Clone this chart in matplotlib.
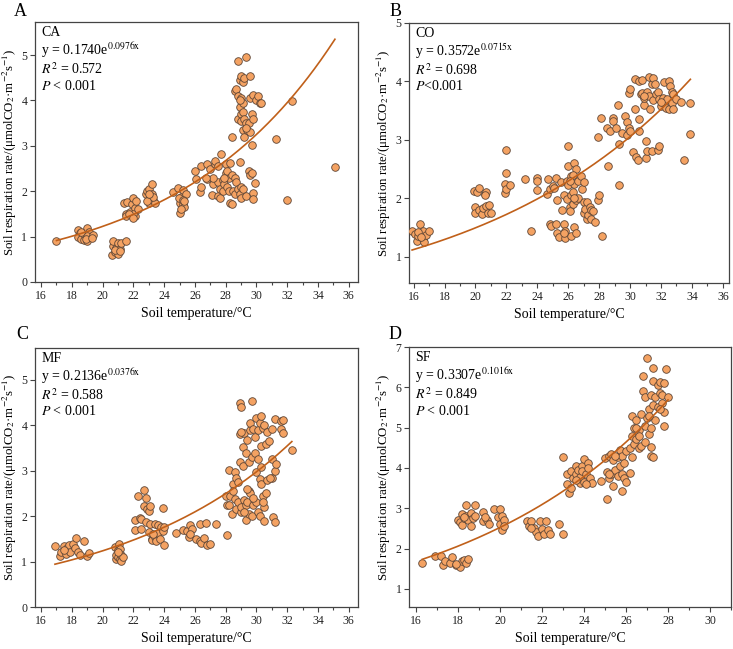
import numpy as np
import matplotlib
matplotlib.use('Agg')
import matplotlib.pyplot as plt
from matplotlib.ticker import MultipleLocator

plt.rcParams['font.family'] = 'Liberation Serif'
plt.rcParams['mathtext.fontset'] = 'stix'

# ---- data ----
# CA
ca_temp = [17.0, 18.4, 18.5, 18.4, 18.6, 18.8, 18.8, 19.0, 19.0, 19.1, 19.2, 19.0, 18.9, 19.4, 18.6, 19.3,
           20.6, 20.7, 20.7, 20.8, 20.9, 21.0, 21.0, 21.1, 21.2, 21.5, 20.8, 21.1,
           21.4, 21.5, 21.6, 21.5, 21.8, 21.9, 22.0, 22.1, 22.1, 22.2, 22.0, 22.3, 21.7, 22.0,
           22.8, 22.9, 23.0, 23.0, 23.1, 23.2, 23.2, 23.3, 23.1, 23.4, 23.3, 22.9, 23.0,
           24.6, 24.9, 25.0, 25.0, 25.1, 25.2, 25.2, 25.3, 25.4, 25.1, 24.95, 25.2, 25.3,
           26.0, 26.1, 26.3, 26.4, 26.4, 26.8, 26.8, 27.0, 27.1, 27.2, 27.3, 27.3, 27.5, 27.5, 27.5, 27.6,
           27.6, 27.7, 27.8, 27.8, 27.9, 28.0, 28.0, 28.1, 28.1, 28.2, 28.2, 28.3, 28.3, 28.4, 28.4, 28.5,
           28.6, 28.6, 28.7, 28.8, 28.9, 28.9, 29.0, 29.0, 29.1, 29.3, 29.5, 29.6, 29.7, 29.8, 29.8, 29.9,
           28.4, 27.2, 26.7, 27.9,
           28.6, 28.7, 28.8, 28.8, 28.8, 28.9, 28.9, 29.0, 29.0, 29.0, 29.0, 29.1, 29.1, 29.1, 29.1, 29.2,
           29.2, 29.2, 29.3, 29.3, 29.4, 29.5, 29.6, 29.6, 29.6, 29.7, 29.7, 29.8, 29.8, 30.0, 30.1, 30.2,
           30.3, 28.9, 29.3,
           31.3, 32.0, 32.3, 35.1]
ca_resp = [0.91, 1.15, 1.08, 1.00, 0.95, 1.05, 0.92, 0.90, 1.20, 1.10, 1.00, 1.02, 0.95, 1.03, 1.10, 0.98,
           0.60, 0.80, 0.90, 0.65, 0.75, 0.85, 0.62, 0.72, 0.85, 0.90, 0.70, 0.68,
           1.75, 1.50, 1.77, 1.46, 1.55, 1.72, 1.85, 1.45, 1.62, 1.78, 1.50, 1.60, 1.50, 1.42,
           1.93, 2.00, 2.05, 1.75, 1.85, 2.17, 1.95, 1.80, 1.90, 1.75, 1.88, 1.78, 1.95,
           1.98, 2.07, 1.52, 1.75, 1.88, 2.03, 1.72, 1.65, 1.93, 1.60, 1.85, 1.80, 1.78,
           2.45, 2.27, 1.98, 2.10, 2.56, 2.60, 2.28, 2.50, 1.92, 2.15, 2.60, 2.67, 2.20, 2.55, 1.90, 1.85,
           2.05, 2.83, 2.25, 2.00, 2.15, 2.60, 2.40, 2.45, 2.10, 2.30, 2.00, 1.75, 2.62, 1.72, 2.35, 2.00,
           1.95, 2.30, 2.20, 2.05, 2.65, 1.95, 2.10, 1.85, 2.05, 1.90, 2.45, 2.35, 2.40, 1.97, 1.82, 2.18,
           3.20, 2.30, 2.30, 2.30,
           4.22, 4.25, 4.10, 3.60, 4.88, 4.45, 3.85, 4.55, 4.05, 3.70, 3.55, 4.40, 3.95, 3.75, 3.35, 4.50,
           3.60, 3.20, 4.96, 3.50, 3.35, 3.50, 4.05, 4.55, 3.30, 3.02, 3.70, 4.12, 3.60, 4.00, 4.10, 3.95,
           3.95, 4.00, 3.40,
           3.15, 1.81, 3.98, 2.53]

# CO
co_temp = [15.9, 16.1, 16.2, 16.3, 16.4, 16.5, 16.6, 16.6, 16.7, 16.8, 17.0, 16.3, 16.5,
           19.9, 20.0, 20.0, 20.1, 20.2, 20.2, 20.4, 20.5, 20.6, 20.7, 20.7, 20.8, 20.9, 21.0, 20.6,
           21.9, 21.9, 22.0, 22.0, 22.0, 22.2,
           23.2, 23.6, 24.0, 24.0, 24.0, 24.6, 24.7, 24.8, 24.8, 24.9, 25.0, 25.1, 25.2, 25.2, 25.3, 25.3,
           25.4, 25.5, 25.6, 25.7, 25.7, 25.8, 25.8, 25.9, 25.9, 26.0, 26.0, 26.0, 26.1, 26.1, 26.2, 26.2,
           26.2, 26.3, 26.3, 26.4, 26.4, 26.4, 26.5, 26.5, 26.5, 26.6, 26.6, 26.8, 26.9, 27.0, 27.0, 27.0,
           27.1, 27.2, 27.2, 27.3, 27.4, 27.5, 27.5, 27.6, 27.7, 27.9, 28.0, 28.2, 26.3, 26.1, 25.7, 26.4,
           27.9, 28.1, 28.5, 28.6, 28.7, 28.9, 28.9, 29.1, 29.2, 29.3, 29.3, 29.5, 29.7, 29.8, 29.8, 29.9,
           29.9, 30.0, 30.0, 30.2, 30.3, 30.3, 30.4, 30.5, 30.6, 30.6, 30.6, 30.7, 30.8, 30.8, 30.9, 30.9,
           31.0, 31.0, 31.1, 31.1, 31.2, 31.2, 31.3, 31.4, 31.4, 31.5, 31.5, 31.6, 31.7, 31.8, 31.8, 31.9,
           31.9, 32.0, 32.1, 32.2, 32.2, 32.3, 32.4, 32.5, 32.5, 32.6, 32.7, 32.7, 32.8, 32.8, 33.0, 33.3,
           33.5, 33.9, 33.9, 32.0, 30.9]
co_resp = [1.44, 1.38, 1.27, 1.35, 1.55, 1.40, 1.30, 1.44, 1.25, 1.37, 1.43, 1.42, 1.33,
           2.13, 1.85, 1.75, 2.10, 2.18, 1.80, 1.73, 1.83, 2.07, 2.10, 1.87, 1.75, 1.88, 1.75, 2.05,
           2.25, 2.08, 2.15, 2.82, 2.43, 2.22,
           2.32, 1.44, 2.35, 2.14, 2.30, 2.07, 2.33, 2.15, 1.55, 1.52, 2.20, 2.18, 1.55, 2.35, 1.97, 1.40,
           1.33, 2.28, 1.80, 2.05, 1.55, 1.43, 1.32, 1.98, 2.30, 2.55, 2.89, 2.22, 1.85, 1.78, 2.05, 2.38,
           1.35, 2.10, 1.90, 2.60, 2.25, 1.50, 2.50, 1.97, 1.40, 2.00, 2.30, 2.38, 2.15, 2.28, 1.93, 1.75,
           1.82, 1.93, 1.65, 1.72, 1.85, 1.80, 1.65, 1.78, 1.60, 1.97, 2.06, 1.36, 2.40, 2.30, 1.40, 2.00,
           3.05, 3.37, 3.20, 2.55, 3.15, 3.37, 3.32, 3.20, 3.60, 2.92, 2.22, 3.12, 3.40, 3.08, 3.30, 3.80,
           3.20, 3.87, 3.15, 2.79, 4.03, 3.53, 2.70, 2.65, 4.00, 3.35, 3.15, 3.78, 4.02, 3.80, 3.60, 3.72,
           2.98, 2.68, 2.80, 3.82, 4.08, 3.75, 3.52, 2.80, 3.95, 4.05, 3.68, 3.95, 3.78, 3.82, 2.82, 2.90,
           3.70, 3.58, 3.72, 3.98, 3.62, 3.55, 3.70, 4.00, 3.52, 3.92, 3.82, 3.62, 3.52, 3.78, 3.70, 3.65,
           2.66, 3.63, 3.09, 3.65, 3.75]

# MF
mf_temp = [16.9, 17.2, 17.3, 17.5, 17.6, 17.7, 17.8, 17.9, 18.1, 18.2, 18.3, 18.4, 18.5, 18.8, 19.0, 19.1, 17.5,
           20.8, 20.9, 20.9, 21.0, 21.0, 21.05, 21.1, 21.1, 21.2, 21.2, 21.3, 21.0,
           22.1, 22.1, 22.3, 22.4, 22.5, 22.5, 22.7, 22.7, 22.8, 22.8, 22.9, 23.0, 23.0, 23.1, 23.1, 23.2,
           23.2, 23.4, 23.4, 23.5, 23.6, 23.6, 23.7, 23.8, 23.9, 23.9, 24.0, 24.0, 23.3,
           24.8, 25.2, 25.5, 25.6, 25.7, 25.8, 26.1, 26.3, 26.3, 26.4, 26.6, 26.7, 26.8, 27.0, 27.4, 25.7,
           28.0, 28.1, 28.1, 28.2, 28.2, 28.3, 28.4, 28.5, 28.5, 28.6, 28.6, 28.7, 28.7, 28.8, 28.8, 28.9,
           28.9, 28.9, 29.0, 29.0, 29.0, 29.1, 29.1, 29.2, 29.2, 29.3, 29.3, 29.3, 29.4, 29.4, 29.5, 29.5,
           29.5, 29.6, 29.6, 29.6, 29.7, 29.7, 29.7, 29.8, 29.8, 29.9, 29.9, 30.0, 30.0, 30.0, 30.1, 30.1,
           30.1, 30.2, 30.2, 30.2, 30.3, 30.3, 30.3, 30.3, 30.4, 30.4, 30.5, 30.5, 30.5, 30.6, 30.6, 30.7,
           30.7, 30.8, 31.0, 31.0, 31.0, 31.1, 31.2, 31.2, 31.2, 31.3, 31.6, 31.6, 31.7, 31.7, 32.3, 29.2,
           29.8, 30.4, 29.0, 30.9, 29.4]
mf_resp = [1.35, 1.12, 1.20, 1.35, 1.17, 1.30, 1.37, 1.22, 1.38, 1.30, 1.52, 1.20, 1.15, 1.45, 1.12, 1.18, 1.25,
           1.32, 1.05, 1.15, 1.25, 1.10, 1.38, 1.05, 1.28, 1.02, 1.15, 1.10, 1.20,
           1.92, 1.70, 2.45, 1.95, 1.72, 1.93, 2.58, 2.22, 1.87, 2.40, 2.15, 1.65, 2.12, 2.22, 1.83, 1.50,
           1.47, 1.83, 1.55, 1.45, 1.80, 1.62, 1.50, 1.75, 2.18, 1.68, 1.37, 1.75, 1.60,
           1.62, 1.70, 1.68, 1.55, 1.80, 1.72, 1.50, 1.45, 1.82, 1.40, 1.52, 1.85, 1.37, 1.38, 1.83, 1.60,
           2.45, 2.25, 1.58, 3.02, 2.25, 2.45, 2.05, 2.70, 2.55, 2.38, 2.98, 2.15, 2.85, 2.75, 2.32, 3.80,
           3.20, 4.50, 4.40, 2.08, 2.20, 3.52, 3.10, 3.82, 2.35, 2.25, 1.92, 3.40, 2.30, 3.68, 2.55, 2.05,
           3.20, 3.90, 2.50, 4.05, 4.53, 3.30, 2.00, 3.92, 2.25, 3.75, 3.38, 4.15, 2.98, 2.30, 2.10, 3.25,
           3.90, 4.05, 2.82, 2.00, 4.20, 3.55, 3.08, 2.70, 2.45, 3.95, 4.00, 2.20, 1.90, 3.58, 2.50, 3.85,
           2.80, 3.65, 3.92, 3.25, 2.85, 1.97, 3.00, 4.13, 1.87, 3.15, 4.10, 3.92, 3.82, 4.12, 3.45, 2.10,
           2.40, 2.30, 3.85, 2.83, 2.60]

# SF
sf_temp = [16.3, 16.9, 17.2, 17.3, 17.4, 17.6, 17.7, 17.9, 18.1, 18.2, 18.3, 18.4, 18.5, 17.9,
           18.0, 18.1, 18.2, 18.2, 18.3, 18.4, 18.4, 18.5, 18.6, 18.6, 18.7, 18.8, 18.8, 19.2, 19.2, 19.4,
           19.5, 19.7, 19.9, 20.0, 20.0, 20.1, 20.1, 20.2, 20.2, 19.3, 18.3,
           21.3, 21.4, 21.5, 21.6, 21.7, 21.8, 21.9, 22.0, 22.1, 22.2, 22.3, 22.4, 22.8, 23.0, 21.5,
           23.0, 23.2, 23.2, 23.3, 23.4, 23.4, 23.5, 23.6, 23.6, 23.7, 23.8, 23.8, 23.9, 23.9, 24.0, 24.0,
           24.1, 24.2, 24.2, 24.3, 24.4, 23.6, 24.1,
           24.8, 25.0, 25.1, 25.1, 25.2, 25.2, 25.3, 25.3, 25.4, 25.4, 25.5, 25.6, 25.6, 25.7, 25.7, 25.8,
           25.8, 25.8, 25.9, 25.9, 26.0, 26.0, 26.2, 26.2, 26.3, 26.3, 26.3, 26.4, 26.4, 26.5, 26.5, 26.6,
           26.6, 26.7, 26.7, 26.8, 26.8, 26.9, 26.9, 26.9, 27.0, 27.0, 27.1, 27.1, 27.2, 27.2, 27.2, 27.2,
           27.3, 27.3, 27.3, 27.3, 27.4, 27.4, 27.5, 27.5, 27.6, 27.6, 27.7, 27.7, 27.8, 27.8, 27.8, 27.9,
           28.0, 26.5, 27.1, 26.6, 27.6, 25.5, 25.2]
sf_resp = [1.65, 1.82, 1.82, 1.58, 1.70, 1.65, 1.80, 1.60, 1.55, 1.68, 1.72, 1.65, 1.75, 1.62,
           2.72, 2.65, 2.85, 2.58, 2.75, 3.08, 2.82, 2.70, 2.88, 2.55, 2.75, 3.08, 2.82, 2.90, 2.68, 2.72,
           2.62, 2.98, 2.78, 2.98, 2.62, 2.45, 2.82, 2.72, 2.55, 2.78, 2.78,
           2.68, 2.55, 2.68, 2.50, 2.40, 2.30, 2.68, 2.48, 2.35, 2.68, 2.45, 2.35, 2.60, 2.35, 2.50,
           4.28, 3.85, 3.60, 3.38, 3.50, 3.92, 3.75, 4.05, 3.85, 3.95, 3.62, 3.78, 4.05, 3.92, 4.22, 3.65,
           3.85, 4.12, 4.00, 3.75, 3.62, 3.70, 3.60,
           3.68, 4.25, 3.90, 3.22, 4.30, 3.75, 4.35, 3.85, 4.20, 3.55, 3.95, 4.28, 3.80, 4.45, 4.05, 4.30,
           3.42, 3.85, 4.12, 3.75, 3.65, 4.42, 4.50, 3.88, 4.80, 4.28, 5.30, 5.00, 4.60, 4.72, 5.20, 4.50,
           4.95, 5.35, 4.55, 5.90, 6.27, 4.65, 5.05, 5.75, 6.72, 5.25, 4.85, 5.45, 4.98, 5.82, 4.52, 4.30,
           6.48, 6.15, 5.55, 4.28, 5.20, 5.75, 5.50, 6.05, 5.85, 6.12, 5.60, 5.80, 5.05, 5.38, 6.10, 6.45,
           5.77, 5.00, 5.30, 4.80, 5.45, 4.30, 3.85]

# exponential fits y = a*exp(b*x)  (MF curve as drawn; printed exponent kept as in the figure)
fit_a = [0.1740, 0.3572, 0.2136, 0.3307]
fit_b = [0.0976, 0.0715, 0.0878, 0.1016]
eq_text = ['y = 0.1740e$^{\\mathrm{0.0976x}}$', 'y = 0.3572e$^{\\mathrm{0.0715x}}$',
           'y = 0.2136e$^{\\mathrm{0.0376x}}$', 'y = 0.3307e$^{\\mathrm{0.1016x}}$']
r2_text = ['0.572', '0.698', '0.588', '0.849']
p_text = ['$P$ < 0.001', '$P$<0.001', '$P$ < 0.001', '$P$ < 0.001']
site_names = ['CA', 'CO', 'MF', 'SF']
panel_letters = ['A', 'B', 'C', 'D']

temps = [ca_temp, co_temp, mf_temp, sf_temp]
resps = [ca_resp, co_resp, mf_resp, sf_resp]

# layout / axis settings
positions = [[0.0477, 0.5655, 0.4407, 0.4006],
             [0.558, 0.564, 0.4366, 0.401],
             [0.0477, 0.0647, 0.4407, 0.3991],
             [0.558, 0.0647, 0.4393, 0.4006]]
xlims = [(15.6, 36.6), (15.7, 36.4), (15.6, 36.6), (15.67, 31.0)]
xticks = [np.arange(16, 37, 2), np.arange(16, 37, 2), np.arange(16, 37, 2), np.arange(16, 31, 2)]
ylims = [(0, 5.73), (0.55, 5.0), (0, 5.7), (0.55, 7.0)]
yticks = [np.arange(0, 6), np.arange(1, 6), np.arange(0, 6), np.arange(1, 8)]
letter_xy = [(0.019, 0.996), (0.532, 0.996), (0.022, 0.497), (0.530, 0.497)]

pt_face = '#F4A262'
pt_edge = '#5e4636'
line_col = '#C0601A'
spine_col = '#444444'

fig = plt.figure(figsize=(7.33, 6.49), dpi=100)

for i in range(4):
    ax = fig.add_axes(positions[i])
    t = np.array(temps[i])
    r = np.array(resps[i])
    ax.scatter(t, r, s=30, facecolor=pt_face, edgecolor=pt_edge, linewidth=0.6, zorder=3)

    xs = np.linspace(t.min(), t.max(), 300)
    ax.plot(xs, fit_a[i] * np.exp(fit_b[i] * xs), color=line_col, lw=1.2, zorder=4)

    ax.set_xlim(*xlims[i])
    ax.set_ylim(*ylims[i])
    ax.set_xticks(xticks[i])
    ax.set_yticks(yticks[i])
    ax.xaxis.set_minor_locator(MultipleLocator(1))
    ax.tick_params(which='major', direction='out', length=3.5, width=0.8,
                   labelsize=8.5, color=spine_col, labelcolor='#222222', pad=2)
    ax.tick_params(which='minor', direction='out', length=2.5, width=0.8, color=spine_col)
    for sp in ax.spines.values():
        sp.set_color(spine_col)
        sp.set_linewidth(0.9)

    ax.set_xlabel('Soil temperature/°C', fontsize=10, labelpad=4)
    ax.set_ylabel('Soil respiration rate/(μmolCO$_2$·m$^{-2}$s$^{-1}$)', fontsize=9.3, labelpad=1.5)

    # annotation block
    tx = 0.02
    ax.text(tx, 0.958, site_names[i], transform=ax.transAxes, va='center', fontsize=10)
    ax.text(tx, 0.89, eq_text[i], transform=ax.transAxes, va='center', fontsize=10)
    ax.text(tx, 0.818, '$R^2$ = ' + r2_text[i], transform=ax.transAxes, va='center', fontsize=10)
    ax.text(tx, 0.755, p_text[i], transform=ax.transAxes, va='center', fontsize=10)

    fig.text(letter_xy[i][0], letter_xy[i][1], panel_letters[i], va='top', ha='left', fontsize=13)

fig.savefig('out.png', dpi=100)
